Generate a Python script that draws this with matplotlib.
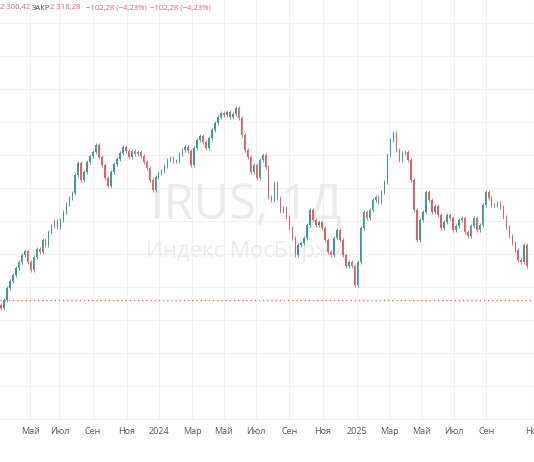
import matplotlib
matplotlib.use('Agg')
import matplotlib.pyplot as plt
import numpy as np

plt.rcParams['font.family'] = ['Open Sans', 'DejaVu Sans']

# daily closes (one value per ~3 px of the original)
closes = [
    2168, 2200, 2248, 2276, 2300, 2328, 2352, 2380, 2396, 2352,
    2320, 2372, 2404, 2392, 2440, 2420, 2472, 2496, 2516, 2492,
    2520, 2552, 2584, 2608, 2628, 2700, 2748, 2680, 2712, 2752,
    2776, 2792, 2820, 2772, 2740, 2688, 2656, 2712, 2744, 2764,
    2788, 2812, 2796, 2772, 2796, 2784, 2792, 2776, 2752, 2728,
    2680, 2640, 2692, 2708, 2716, 2736, 2760, 2768, 2756, 2756,
    2784, 2800, 2812, 2796, 2740, 2808, 2840, 2856, 2832, 2808,
    2848, 2880, 2908, 2932, 2948, 2940, 2952, 2932, 2944, 2968,
    2928, 2860, 2800, 2772, 2712, 2740, 2688, 2760, 2780, 2732,
    2612, 2600, 2668, 2608, 2556, 2568, 2532, 2488, 2448, 2380,
    2420, 2428, 2448, 2500, 2560, 2520, 2500, 2512, 2488, 2440,
    2392, 2380, 2448, 2480, 2440, 2380, 2336, 2352, 2336, 2260,
    2352, 2488, 2552, 2528, 2560, 2600, 2612, 2592, 2632, 2672,
    2780, 2840, 2868, 2800, 2760, 2788, 2792, 2760, 2680, 2560,
    2440, 2520, 2552, 2632, 2600, 2552, 2576, 2540, 2488, 2512,
    2540, 2528, 2480, 2496, 2520, 2528, 2472, 2456, 2496, 2528,
    2480, 2500, 2580, 2632, 2608, 2580, 2580, 2588, 2572, 2532,
    2492, 2456, 2428, 2400, 2360, 2352, 2420, 2336,
]
month_labels = ['Май', 'Июл', 'Сен', 'Ноя', '2024', 'Мар', 'Май', 'Июл',
                'Сен', 'Ноя', '2025', 'Мар', 'Май', 'Июл', 'Сен', 'Ноя']
month_bars = [9.8, 19.7, 31, 42.3, 53.3, 64.3, 75, 85.7,
              97, 108.3, 119.7, 130.7, 141.3, 152.3, 163.3, 179.3]
level = 2200  # red dotted level line

GREEN = '#3f9c8a'
RED = '#e2606b'

closes = np.array(closes, dtype=float)
opens = np.concatenate([[closes[0] + 12], closes[:-1]])
x = np.arange(len(closes))
up = closes >= opens
colors = np.where(up, GREEN, RED)

fig = plt.figure(figsize=(5.34, 4.62), dpi=100)
ax = fig.add_axes([0, 42 / 462, 1.0, 420 / 462])

# grid
for yg in np.arange(1724, 3400, 132):
    ax.axhline(yg, color='#f1f1f1', lw=0.8, zorder=0)
for xb in month_bars:
    ax.axvline(xb, color='#f1f1f1', lw=0.8, zorder=0)

# watermark
ax.text(82.5, 2572, 'IRUS, 1Д', ha='center', va='center', fontsize=35,
        color='#ebebeb', zorder=1)
ax.text(82.5, 2396, 'Индекс МосБиржи', ha='center', va='center', fontsize=16,
        color='#ebebeb', zorder=1)

# candles
lo = np.minimum(opens, closes)
hi = np.maximum(opens, closes)
ax.vlines(x, lo - 8, hi + 8, colors=colors, lw=0.6, zorder=2)
ax.bar(x, np.maximum(hi - lo, 4), bottom=lo, width=0.5, color=colors,
       edgecolor='none', zorder=3)

ax.axhline(level, color='#e57373', lw=1.0, ls=(0, (1, 2)), zorder=1)

ax.set_xlim(-0.3, 177.7)
ax.set_ylim(1720, 3400)
ax.set_yticks([])
ax.set_xticks(month_bars)
ax.set_xticklabels(month_labels, fontsize=6.5, color='#555555')
ax.tick_params(axis='x', length=0, pad=5)
for s in ax.spines.values():
    s.set_visible(False)

# OHLC legend strip at top
ty = 1 - 8 / 462
fig.text(0.0, ty, '2 300,42', fontsize=5.5, color=RED, va='center', ha='left')
fig.text(32 / 534, ty, 'ЗАКР', fontsize=5.5, color='#444444', va='center', ha='left')
fig.text(50 / 534, ty, '2 318,28', fontsize=5.5, color=RED, va='center', ha='left')
fig.text(86 / 534, ty, '−102,28 (−4,23%)', fontsize=5.5, color=RED, va='center', ha='left')
fig.text(150 / 534, ty, '−102,28 (−4,23%)', fontsize=5.5, color=RED, va='center', ha='left')

fig.savefig('out.png', dpi=100)
